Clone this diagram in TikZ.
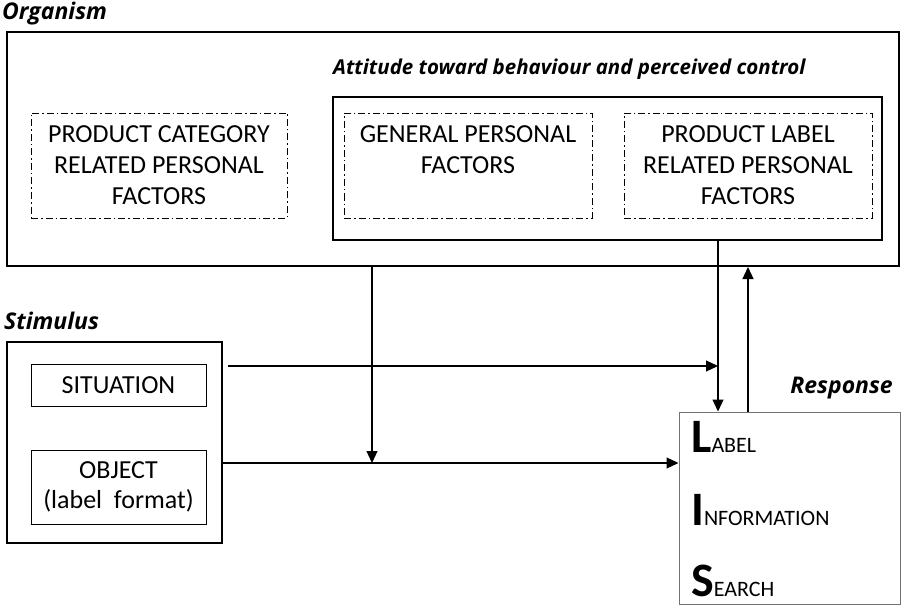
\documentclass[tikz,border=0pt]{standalone}
\usepackage{fontspec}
\setmainfont{Carlito}
\newfontfamily\lblfont{Open Sans}
\usetikzlibrary{arrows.meta}
\begin{document}
\begin{tikzpicture}[x=1pt,y=-1pt,
  boxthick/.style={draw,line width=2pt,inner sep=0pt},
  boxthin/.style={draw,line width=1pt,inner sep=0pt,align=center,font=\fontsize{26}{30}\selectfont},
  dashbox/.style={draw,line width=0.9pt,dash pattern=on 7pt off 3pt on 1.5pt off 3pt,inner sep=0pt,align=center,font=\fontsize{26}{31}\selectfont},
  lbl/.style={font=\lblfont\fontsize{23}{26}\selectfont\bfseries\itshape,inner sep=0pt},
  lis/.style={anchor=base west,inner sep=0pt},
  arr/.style={line width=1.2pt,-{Triangle[length=12pt,width=11pt]}}]
\useasboundingbox (0,0) rectangle (903,607);
% Organism
\node[lbl,anchor=base west] (orglbl) at (2,19.5) {Organism};
\node[boxthick,minimum width=892pt,minimum height=234pt] (org) at (453,149) {};
\node[lbl,font=\lblfont\fontsize{20.5}{24}\selectfont\bfseries\itshape,anchor=base west] (attlbl) at (333,75) {Attitude\ toward behaviour\ and perceived control};
\node[boxthick,minimum width=549pt,minimum height=143pt] (att) at (607.5,168.5) {};
\node[dashbox,minimum width=256pt,minimum height=105pt] (pc) at (159,165.5) {PRODUCT CATEGORY\\RELATED PERSONAL\\FACTORS};
\node[dashbox,minimum width=248pt,minimum height=105pt] (gp) at (468,165.5) {GENERAL PERSONAL\\FACTORS\\~};
\node[dashbox,minimum width=248pt,minimum height=105pt] (pl) at (748,165.5) {PRODUCT LABEL\\RELATED PERSONAL\\FACTORS};
% Stimulus
\node[lbl,anchor=base west] (stimlbl) at (4,329) {Stimulus};
\node[boxthick,minimum width=215pt,minimum height=201pt] (stim) at (114.5,442.5) {};
\node[boxthin,minimum width=175pt,minimum height=42pt] (sit) at (118.5,385) {SITUATION};
\node[boxthin,minimum width=175pt,minimum height=74pt] (obj) at (118.5,487) {OBJECT\\(label\ \ format)};
% Response
\node[lbl,anchor=base east] (resplbl) at (893,393) {Response};
\node[draw=black!55,line width=1pt,inner sep=0pt,minimum width=221pt,minimum height=192pt] (resp) at (789.5,508) {};
\node[lis] (lis1) at (691,452) {\fontsize{48}{48}\selectfont\bfseries L\fontsize{22}{22}\selectfont\mdseries ABEL};
\node[lis] (lis2) at (691,525) {\fontsize{48}{48}\selectfont\bfseries I\fontsize{22}{22}\selectfont\mdseries NFORMATION};
\node[lis] (lis3) at (691,596) {\fontsize{48}{48}\selectfont\bfseries S\fontsize{22}{22}\selectfont\mdseries EARCH};
% connectors
\coordinate (j1) at (372,463);
\coordinate (s0) at (228,366);
\coordinate (v1) at (718,366);
\coordinate (u1) at (748,340);
\draw[arr] (org.south -| j1) -- (j1);
\draw[arr] (s0) -- (v1);
\draw[arr] (stim.east |- j1) -- (resp.west |- j1);
\draw[arr] (att.south -| v1) -- (resp.north -| v1);
\draw[arr] (resp.north -| u1) -- (org.south -| u1);
\end{tikzpicture}
\end{document}
